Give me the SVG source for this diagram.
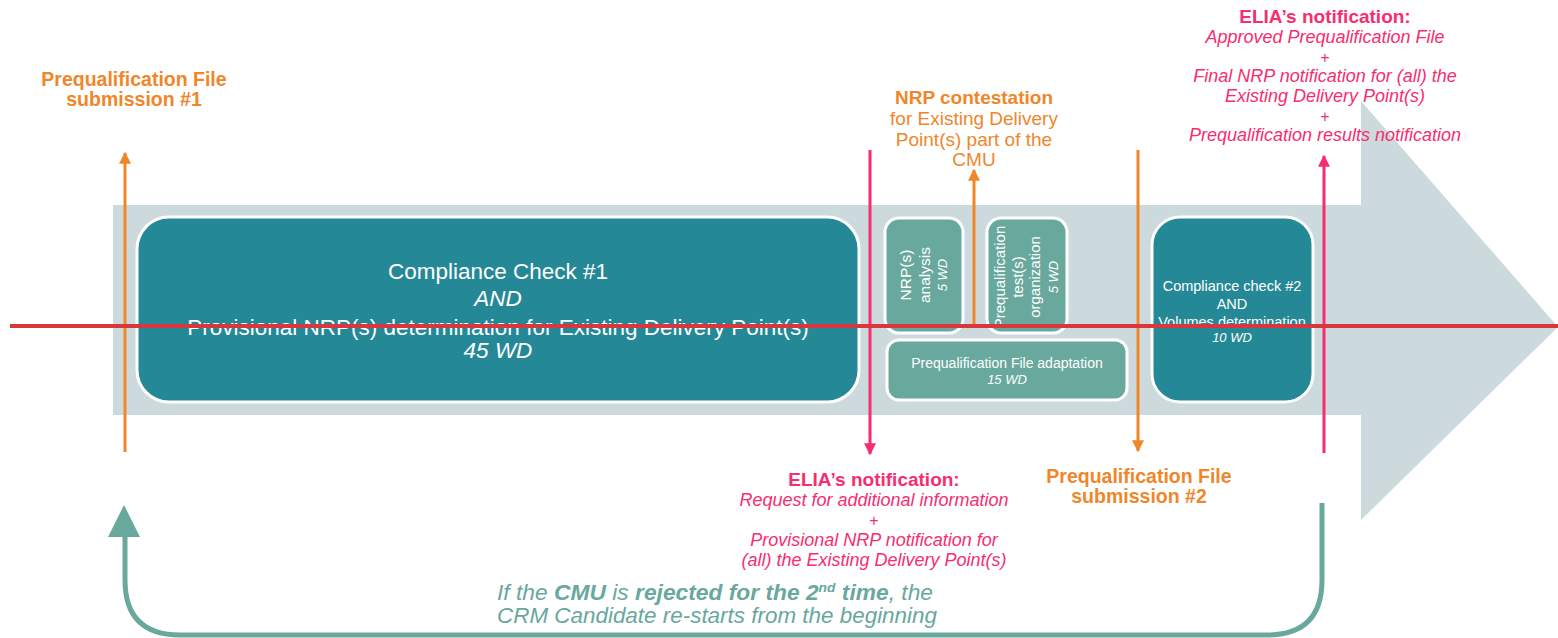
<svg xmlns="http://www.w3.org/2000/svg" width="1558" height="638" viewBox="0 0 1558 638">
<defs>
<style>
text{font-family:"Liberation Sans",Arial,sans-serif}
.big{fill:#258896;stroke:#fff;stroke-width:3}
.small{fill:#68a89d;stroke:#fff;stroke-width:3}
.wt{fill:#fff}
.or{fill:#f0862a}
.pk{fill:#f72d6e}
.gr{fill:#68a89d}
.b{font-weight:bold}
.i{font-style:italic}
.ol{stroke:#f0862a;stroke-width:3;fill:none}
.pl{stroke:#f72d6e;stroke-width:3;fill:none}
</style>
<marker id="ao" viewBox="0 0 10 10" refX="9" refY="5" markerWidth="4" markerHeight="4" orient="auto" markerUnits="strokeWidth"><path d="M0,0L10,5L0,10z" fill="#f0862a"/></marker>
<marker id="ap" viewBox="0 0 10 10" refX="9" refY="5" markerWidth="4" markerHeight="4" orient="auto" markerUnits="strokeWidth"><path d="M0,0L10,5L0,10z" fill="#f72d6e"/></marker>
</defs>
<rect width="1558" height="638" fill="#fff"/>
<g id="timeline-arrow">
<polygon points="113,205 1361,205 1361,101 1558,327 1361,520 1361,415 113,415" fill="#ccdadd"/>
</g>
<g id="box-cc1">
<rect class="big" x="137" y="217" width="722" height="185" rx="32"/>
<text class="wt" text-anchor="middle" font-size="22.5"><tspan x="498" y="279">Compliance Check #1</tspan><tspan class="i" x="498" y="306">AND</tspan><tspan x="498" y="335">Provisional NRP(s) determination for Existing Delivery Point(s)</tspan><tspan class="i" x="498" y="358">45 WD</tspan></text>
</g>
<g id="box-nrp-analysis">
<rect class="small" x="885" y="218" width="78" height="115" rx="14"/>
<text class="wt" text-anchor="middle" font-size="15.5" transform="translate(924,275) rotate(-90)"><tspan x="0" y="-13">NRP(s)</tspan><tspan x="0" y="6">analysis</tspan><tspan class="i" x="0" y="23" font-size="13">5 WD</tspan></text>
</g>
<g id="box-pq-test">
<rect class="small" x="987" y="218" width="80" height="115" rx="14"/>
<text class="wt" text-anchor="middle" font-size="15" transform="translate(1027,277) rotate(-90)"><tspan x="0" y="-22">Prequalification</tspan><tspan x="0" y="-4">test(s)</tspan><tspan x="0" y="13">organization</tspan><tspan class="i" x="0" y="31" font-size="13">5 WD</tspan></text>
</g>
<g id="box-pq-adapt">
<rect class="small" x="887" y="340" width="240" height="60" rx="12"/>
<text class="wt" text-anchor="middle" font-size="14"><tspan x="1007" y="368">Prequalification File adaptation</tspan><tspan class="i" x="1007" y="384" font-size="13">15 WD</tspan></text>
</g>
<g id="box-cc2">
<rect class="big" x="1152" y="217" width="161" height="185" rx="28"/>
<text class="wt" text-anchor="middle" font-size="14.5"><tspan x="1232" y="291">Compliance check #2</tspan><tspan x="1232" y="309">AND</tspan><tspan x="1232" y="327">Volumes determination</tspan><tspan class="i" x="1232" y="342" font-size="13">10 WD</tspan></text>
</g>
<g id="connectors">
<line class="ol" x1="125" y1="452" x2="125" y2="153" marker-end="url(#ao)"/>
<line class="pl" x1="870" y1="150" x2="870" y2="454" marker-end="url(#ap)"/>
<line class="ol" x1="974" y1="325" x2="974" y2="170" marker-end="url(#ao)"/>
<line class="ol" x1="1138" y1="150" x2="1138" y2="451" marker-end="url(#ao)"/>
<line class="pl" x1="1324" y1="453" x2="1324" y2="156" marker-end="url(#ap)"/>
<path d="M1322,503 V580 Q1322,635 1267,635 H180 Q125,635 125,580 V535" fill="none" stroke="#68a89d" stroke-width="5"/>
<polygon points="124,505 108,537 140,537" fill="#68a89d"/>
</g>
<g id="label-submission1">
<text class="or b" text-anchor="middle" font-size="19.5"><tspan x="134" y="86">Prequalification File</tspan><tspan x="134" y="106">submission #1</tspan></text>
</g>
<g id="label-nrp-contest">
<text class="or" text-anchor="middle" font-size="19"><tspan class="b" x="974" y="104">NRP contestation</tspan><tspan x="974" y="125">for Existing Delivery</tspan><tspan x="974" y="146">Point(s) part of the</tspan><tspan x="974" y="166">CMU</tspan></text>
</g>
<g id="label-elia-final">
<text class="pk" text-anchor="middle" font-size="18"><tspan class="b" x="1325" y="23" font-size="19">ELIA’s notification:</tspan><tspan class="i" x="1325" y="43">Approved Prequalification File</tspan><tspan x="1325" y="63" font-size="16">+</tspan><tspan class="i" x="1325" y="82">Final NRP notification for (all) the</tspan><tspan class="i" x="1325" y="102">Existing Delivery Point(s)</tspan><tspan x="1325" y="122" font-size="16">+</tspan><tspan class="i" x="1325" y="141">Prequalification results notification</tspan></text>
</g>
<g id="label-elia-request">
<text class="pk" text-anchor="middle" font-size="18"><tspan class="b" x="874" y="486" font-size="19">ELIA’s notification:</tspan><tspan class="i" x="874" y="506">Request for additional information</tspan><tspan x="874" y="526" font-size="16">+</tspan><tspan class="i" x="874" y="546">Provisional NRP notification for</tspan><tspan class="i" x="874" y="566">(all) the Existing Delivery Point(s)</tspan></text>
</g>
<g id="label-submission2">
<text class="or b" text-anchor="middle" font-size="19.5"><tspan x="1139" y="483">Prequalification File</tspan><tspan x="1139" y="503">submission #2</tspan></text>
</g>
<g id="label-loop">
<text class="gr i" font-size="21.5" x="497" y="600" textLength="436" lengthAdjust="spacingAndGlyphs">If the <tspan class="b">CMU</tspan> is <tspan class="b">rejected for the 2</tspan><tspan class="b" font-size="13" dy="-8">nd</tspan><tspan class="b" dy="8"> time</tspan>, the</text>
<text class="gr i" font-size="21.5" x="497" y="623" textLength="440" lengthAdjust="spacingAndGlyphs">CRM Candidate re-starts from the beginning</text>
</g>
<line x1="10" y1="326" x2="1558" y2="326" stroke="#d9363e" stroke-width="4"/>
</svg>
